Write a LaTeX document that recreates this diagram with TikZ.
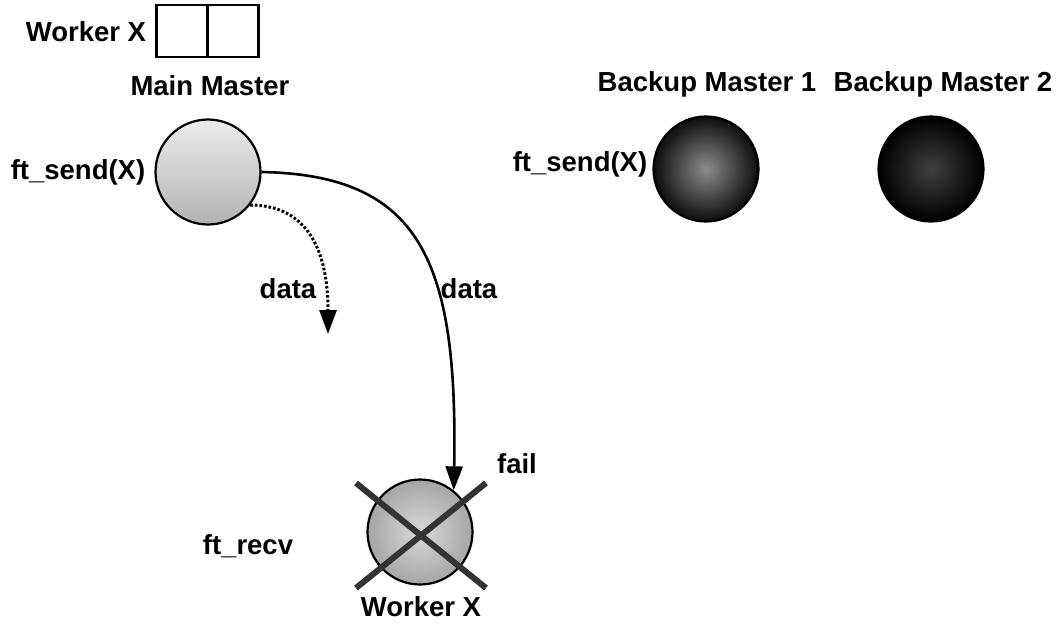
\documentclass[tikz,border=0pt]{standalone}
\usepackage{fontspec}
\setmainfont{Liberation Sans}
\usetikzlibrary{arrows.meta}
\tikzset{
  lbl/.style={inner sep=0pt, font=\bfseries\fontsize{27.5}{30}\selectfont},
  proc/.style={circle, draw=black, line width=2.2pt, minimum size=105pt, inner sep=0pt},
  cell/.style={draw=black, line width=2.2pt, fill=white, minimum width=51pt, minimum height=52pt, inner sep=0pt},
  msg/.style={line width=2.6pt, -{Triangle[length=24pt,width=17pt]}},
  cross/.style={line width=6pt, draw=black!80}
}
\begin{document}
\begin{tikzpicture}[x=1pt,y=-1pt]
\useasboundingbox (0,0) rectangle (1059,625);
% top-left legend
\node[lbl] (wxl) at (86,32) {Worker X};
\node[cell] (boxl) at (182,31) {};
\node[cell] (boxr) at (233,31) {};
% labels
\node[lbl] (mml) at (210,86) {Main Master};
\node[lbl] (b1l) at (707,84) {Backup Master 1};
\node[lbl] (b2l) at (943,84) {Backup Master 2};
% processes
\node[proc, top color=gray!15, bottom color=gray!60] (mm) at (208,172) {};
\node[proc, inner color=black!45, outer color=black!95] (b1) at (706,169) {};
\node[proc, inner color=black!75, outer color=black] (b2) at (931,169) {};
\node[proc, inner color=gray!30, outer color=gray!70] (wx) at (420,532) {};
% text
\node[lbl] (fs1) at (78,172) {ft\_send(X)};
\node[lbl] (fs2) at (580,164) {ft\_send(X)};
\node[lbl] (d1) at (288,289) {data};
\node[lbl] (d2) at (469,289) {data};
\node[lbl] (fail) at (517,464) {fail};
\node[lbl] (fr) at (248,546) {ft\_recv};
\node[lbl] (wxb) at (421,607) {Worker X};
% connectors
\coordinate (dend) at (328,334);
\draw[msg] (mm.east) .. controls (420,175) and (458,260) .. (wx.51);
\draw[msg, dotted, line width=3pt] (mm.-38) .. controls (300,205) and (328,240) .. (dend);
% failure cross
\coordinate (c1) at (356,483);
\coordinate (c2) at (486,588);
\coordinate (c3) at (486,483);
\coordinate (c4) at (356,588);
\draw[cross] (c1) -- (c2);
\draw[cross] (c3) -- (c4);
\end{tikzpicture}
\end{document}
